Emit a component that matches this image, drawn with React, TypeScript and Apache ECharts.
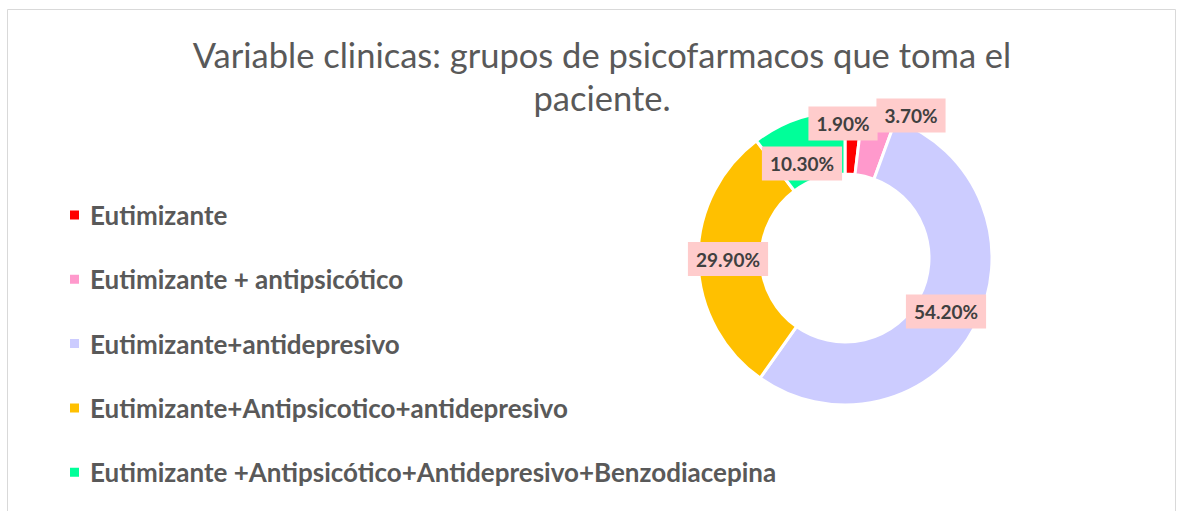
import React, { useEffect, useRef } from "react";
import * as echarts from "echarts";

const categories = [
  "Eutimizante",
  "Eutimizante + antipsicótico",
  "Eutimizante+antidepresivo",
  "Eutimizante+Antipsicotico+antidepresivo",
  "Eutimizante +Antipsicótico+Antidepresivo+Benzodiacepina",
];
const values = [1.9, 3.7, 54.2, 29.9, 10.3];
const colors = ["#FF0000", "#FF99CC", "#CCCCFF", "#FFC000", "#00FF99"];
const titleText = "Variable clinicas: grupos de psicofarmacos que toma el\npaciente.";

// label centre positions (manually placed labels, as in the source)
const labelCenters: [number, number][] = [
  [843, 123.5],
  [911, 115.5],
  [946, 311.5],
  [728, 259],
  [802, 163.5],
];

export default function App() {
  const ref = useRef<HTMLDivElement>(null);
  useEffect(() => {
    if (!ref.current) return;
    const chart = echarts.init(ref.current, undefined, { renderer: "svg" });
    chart.setOption({
      animation: false,
      backgroundColor: "#ffffff",
      title: {
        text: titleText,
        left: 602,
        top: 33,
        textAlign: "center",
        padding: 0,
        textStyle: {
          fontFamily: "Lato",
          fontWeight: "normal",
          fontSize: 34.5,
          lineHeight: 43,
          color: "#595959",
        },
      },
      legend: {
        orient: "vertical",
        left: 68,
        top: 200,
        padding: 0,
        itemWidth: 11,
        itemHeight: 11,
        itemGap: 34.3,
        icon: "rect",
        data: categories,
        textStyle: {
          fontFamily: "Lato",
          fontWeight: "bold",
          fontSize: 26,
          lineHeight: 30,
          color: "#595959",
          padding: [0, 0, 0, 5],
        },
      },
      graphic: [
        {
          type: "polyline",
          shape: { points: [[7.5, 520], [7.5, 9.5], [1175.5, 9.5], [1175.5, 520]] },
          style: { stroke: "#D9D9D9", lineWidth: 1, fill: "none" },
          silent: true,
        },
      ],
      series: [
        {
          type: "pie",
          center: [845, 258],
          radius: [84, 147],
          startAngle: 90,
          clockwise: true,
          avoidLabelOverlap: false,
          itemStyle: { borderColor: "#ffffff", borderWidth: 3 },
          label: {
            show: true,
            position: "inside",
            formatter: (p: any) => p.value.toFixed(2) + "%",
            fontFamily: "Lato",
            fontWeight: "bold",
            fontSize: 19,
            color: "#404040",
            backgroundColor: "#FFCCCC",
            padding: [8, 8, 7, 8],
          },
          labelLine: { show: false },
          labelLayout: (params: any) => ({
            x: labelCenters[params.dataIndex][0],
            y: labelCenters[params.dataIndex][1],
            align: "center",
            verticalAlign: "middle",
          }),
          data: categories.map((name, i) => ({
            name,
            value: values[i],
            itemStyle: { color: colors[i] },
          })),
        },
      ],
    });
    return () => chart.dispose();
  }, []);
  return (
    <div
      ref={ref}
      style={{ position: "fixed", left: 0, top: 0, width: 1183, height: 511 }}
    />
  );
}
